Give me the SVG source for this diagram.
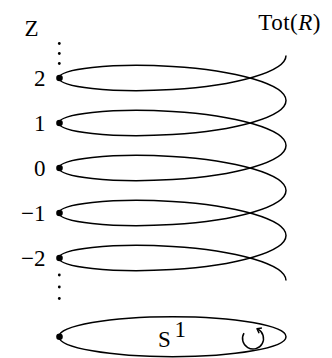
<svg xmlns="http://www.w3.org/2000/svg" width="332" height="358" viewBox="0 0 332 358">
<style>
.ln{fill:none;stroke:#000;stroke-width:1.5}
.t{font-family:"Liberation Serif","Times New Roman",serif;font-size:23px;fill:#000}
.dot{fill:#000}
</style>
<rect width="332" height="358" fill="#fff"/>
<g id="connectors">
<path id="helix" class="ln" d="M286,55.5
C286,71.84 235.19,85.8 172.5,89.55 C109.81,93.3 59,86.84 59,78 C59,69.16 109.81,62.7 172.5,66.45 C235.19,70.2 286,84.16 286,100.5
C286,116.84 235.19,130.8 172.5,134.55 C109.81,138.3 59,131.84 59,123 C59,114.16 109.81,107.7 172.5,111.45 C235.19,115.2 286,129.16 286,145.5
C286,161.84 235.19,175.8 172.5,179.55 C109.81,183.3 59,176.84 59,168 C59,159.16 109.81,152.7 172.5,156.45 C235.19,160.2 286,174.16 286,190.5
C286,206.84 235.19,220.8 172.5,224.55 C109.81,228.3 59,221.84 59,213 C59,204.16 109.81,197.7 172.5,201.45 C235.19,205.2 286,219.16 286,235.5
C286,251.84 235.19,265.8 172.5,269.55 C109.81,273.3 59,266.84 59,258 C59,249.16 109.81,242.7 172.5,246.45 C235.19,250.2 286,264.16 286,280.5"/>
<ellipse id="circle" class="ln" cx="172.5" cy="336.7" rx="113.5" ry="20"/>
</g>
<g id="label-Z"><text class="t" x="31.5" y="36" text-anchor="middle" font-size="24">Z</text></g>
<g id="label-tot"><text class="t" x="321" y="30" text-anchor="end" font-size="25" letter-spacing="0.5">Tot(<tspan font-style="italic">R</tspan>)</text></g>
<g id="dots-top"><circle class="dot" cx="59.3" cy="43.5" r="1.4"/><circle class="dot" cx="59.3" cy="53.5" r="1.4"/><circle class="dot" cx="59.3" cy="63.5" r="1.4"/></g>
<g id="level-2"><circle class="dot" cx="59.5" cy="78" r="3.3"/><text class="t" x="45.5" y="85.5" text-anchor="end">2</text></g>
<g id="level-1"><circle class="dot" cx="59.5" cy="123" r="3.3"/><text class="t" x="45.5" y="130.5" text-anchor="end">1</text></g>
<g id="level-0"><circle class="dot" cx="59.5" cy="168" r="3.3"/><text class="t" x="45.5" y="175.5" text-anchor="end">0</text></g>
<g id="level-m1"><circle class="dot" cx="59.5" cy="213" r="3.3"/><text class="t" x="45.5" y="220.5" text-anchor="end">−1</text></g>
<g id="level-m2"><circle class="dot" cx="59.5" cy="258" r="3.3"/><text class="t" x="45.5" y="265.5" text-anchor="end">−2</text></g>
<g id="dots-bottom"><circle class="dot" cx="59.3" cy="275" r="1.4"/><circle class="dot" cx="59.3" cy="287" r="1.4"/><circle class="dot" cx="59.3" cy="298.5" r="1.4"/></g>
<g id="base"><circle class="dot" cx="59.5" cy="336.7" r="3.3"/><text class="t" x="158" y="347" font-size="24">S</text><text class="t" x="174.5" y="337" font-size="15">1</text></g>
<g id="rotation">
<path class="ln" stroke-width="1.3" d="M244.0,333.1 A10.5,10.5 0 1 0 257.9,329.2"/>
<path class="ln" stroke-width="1.3" stroke-linejoin="round" d="M261.9,328.0 L257.0,328.7 L259.1,333.2"/>
</g>
</svg>
